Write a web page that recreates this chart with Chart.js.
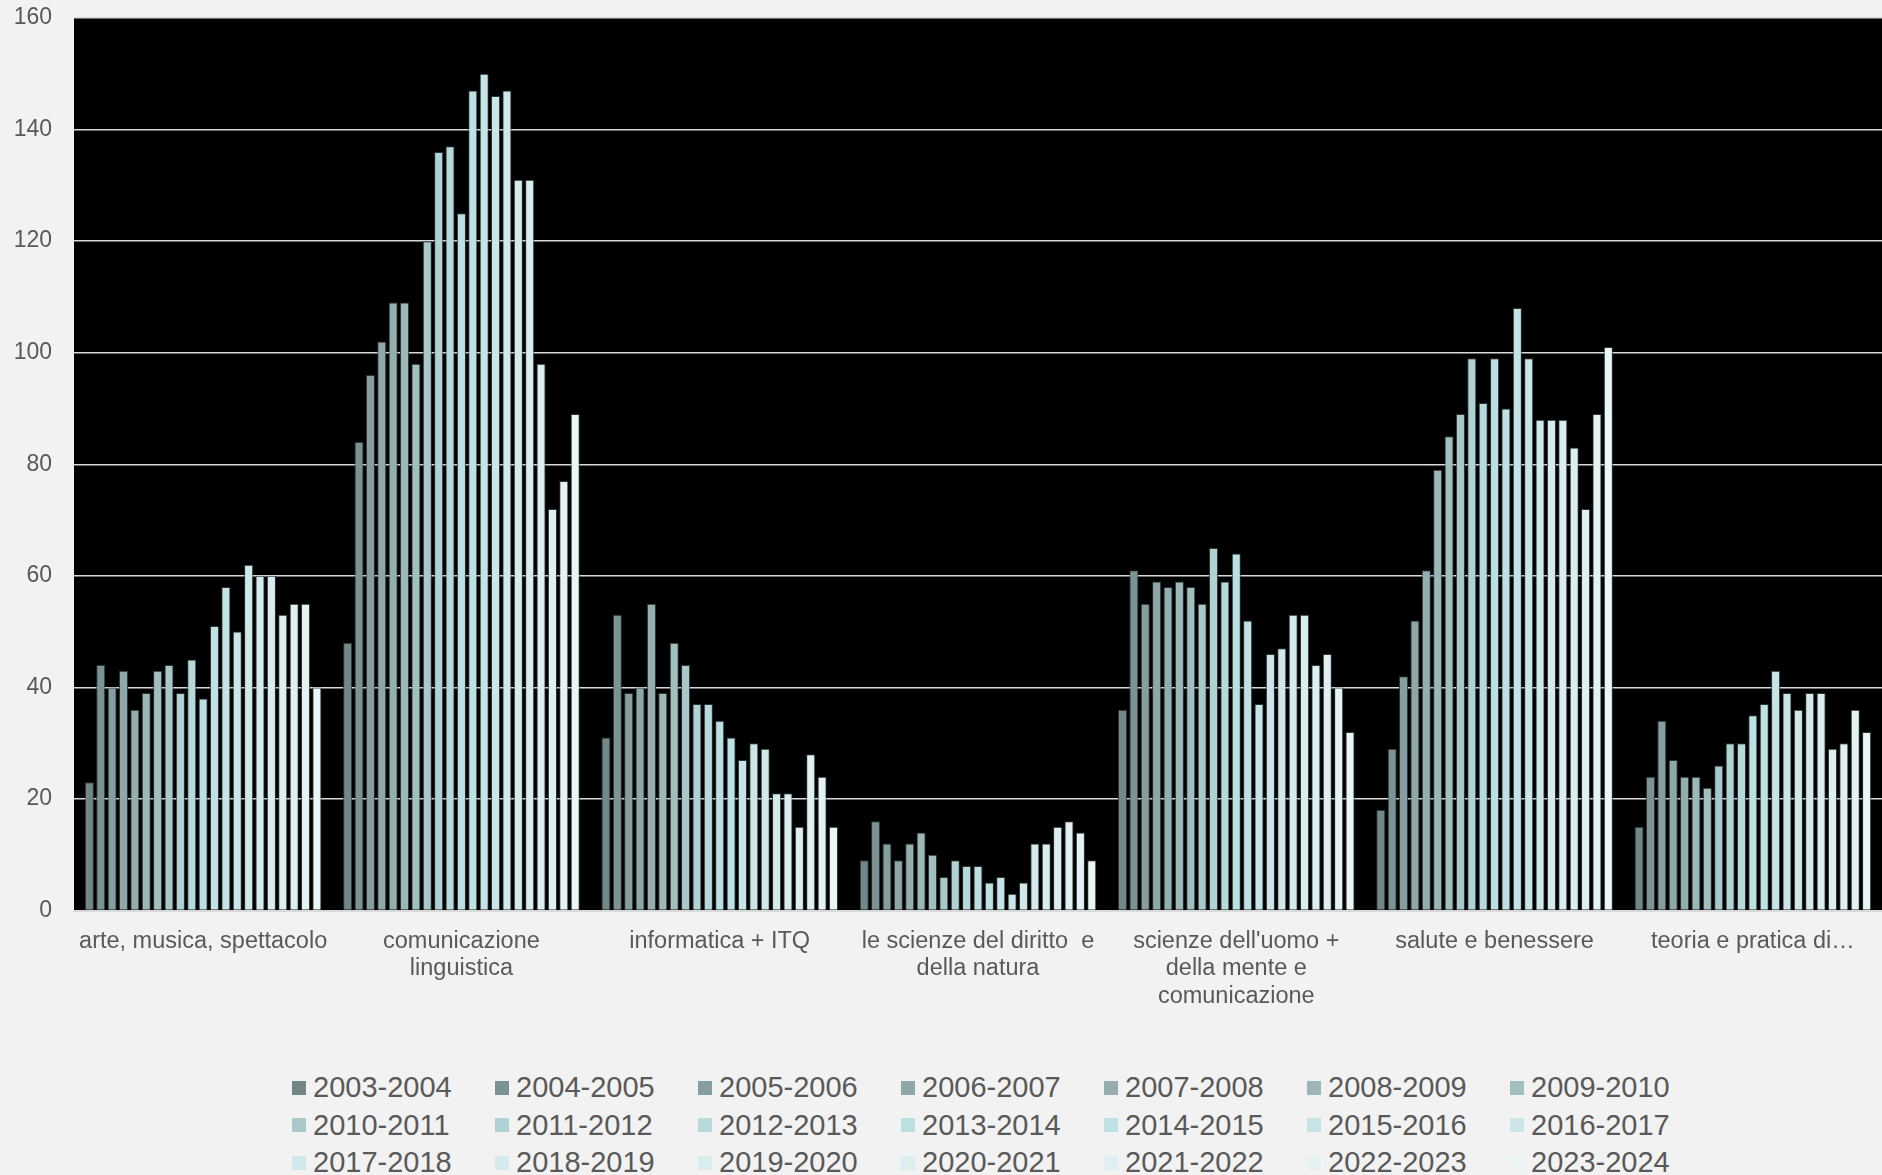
<!DOCTYPE html>
<html>
<head>
<meta charset="utf-8">
<script src="https://cdn.jsdelivr.net/npm/chart.js@4.4.1/dist/chart.umd.min.js"></script>
<style>
  html, body { margin: 0; padding: 0; background: #f2f2f2; overflow: hidden; }
  body { width: 1882px; height: 1175px; position: relative; font-family: "Liberation Sans", Arial, sans-serif; }
  .wrap { position: absolute; left: 0; top: 0; width: 1882px; height: 1031px; }
  .legend { position: absolute; left: 292px; top: 1069px; display: grid; grid-template-columns: repeat(7, 203px); grid-auto-rows: 37.5px; }
  .legend div { display: flex; align-items: center; font-size: 29px; color: #595959; white-space: nowrap; }
  .legend span { display: inline-block; width: 14px; height: 14px; margin-right: 7px; }
</style>
</head>
<body>
<div class="wrap"><canvas id="myChart"></canvas></div>
<div class="legend" id="legend"></div>
<script>
const categories = [
  ["arte, musica, spettacolo"],
  ["comunicazione", "linguistica"],
  ["informatica + ITQ"],
  ["le scienze del diritto  e", "della natura"],
  ["scienze dell'uomo +", "della mente e", "comunicazione"],
  ["salute e benessere"],
  ["teoria e pratica di…"],
];

const years = [
  "2003-2004", "2004-2005", "2005-2006", "2006-2007", "2007-2008", "2008-2009", "2009-2010",
  "2010-2011", "2011-2012", "2012-2013", "2013-2014", "2014-2015", "2015-2016", "2016-2017",
  "2017-2018", "2018-2019", "2019-2020", "2020-2021", "2021-2022", "2022-2023", "2023-2024",
];

// one row per category, one value per school year
const arteMusica = [23, 44, 40, 43, 36, 39, 43, 44, 39, 45, 38, 51, 58, 50, 62, 60, 60, 53, 55, 55, 40];
const comunicazione = [48, 84, 96, 102, 109, 109, 98, 120, 136, 137, 125, 147, 150, 146, 147, 131, 131, 98, 72, 77, 89];
const informatica = [31, 53, 39, 40, 55, 39, 48, 44, 37, 37, 34, 31, 27, 30, 29, 21, 21, 15, 28, 24, 15];
const scienzeDiritto = [9, 16, 12, 9, 12, 14, 10, 6, 9, 8, 8, 5, 6, 3, 5, 12, 12, 15, 16, 14, 9];
const scienzeUomo = [36, 61, 55, 59, 58, 59, 58, 55, 65, 59, 64, 52, 37, 46, 47, 53, 53, 44, 46, 40, 32];
const salute = [18, 29, 42, 52, 61, 79, 85, 89, 99, 91, 99, 90, 108, 99, 88, 88, 88, 83, 72, 89, 101];
const teoria = [15, 24, 34, 27, 24, 24, 22, 26, 30, 30, 35, 37, 43, 39, 36, 39, 39, 29, 30, 36, 32];

const rows = [arteMusica, comunicazione, informatica, scienzeDiritto, scienzeUomo, salute, teoria];

const colors = [
  "#718788", "#7b9394", "#869ea0", "#8ea7a8", "#94aeaf", "#9cb7b8", "#a2bfc0",
  "#a9c8ca", "#b1d2d4", "#b7d9db", "#bcdfe2", "#c0e1e4", "#c6e4e7", "#cbe5e8",
  "#d1e8ea", "#d5eaec", "#d9ecee", "#dceef0", "#e0f0f2", "#e4f2f3", "#eaf5f5",
];

const datasets = years.map((year, i) => ({
  label: year,
  data: rows.map((row) => row[i]),
  backgroundColor: colors[i],
  borderColor: "rgba(45,58,59,0.9)",
  borderWidth: 1,
  categoryPercentage: 0.925,
  barPercentage: 0.8,
}));

const plotBackground = {
  id: "plotBackground",
  beforeDraw(chart) {
    const { ctx, chartArea } = chart;
    ctx.save();
    ctx.fillStyle = "#000000";
    ctx.fillRect(chartArea.left, chartArea.top, chartArea.right - chartArea.left, chartArea.bottom - chartArea.top);
    ctx.restore();
  },
};

Chart.defaults.font.family = "'Liberation Sans', Arial, sans-serif";
Chart.defaults.color = "#595959";

new Chart(document.getElementById("myChart"), {
  type: "bar",
  data: { labels: categories, datasets: datasets },
  options: {
    responsive: true,
    maintainAspectRatio: false,
    animation: false,
    layout: { padding: { top: 18, left: 15, right: 0, bottom: 4 } },
    plugins: {
      legend: { display: false },
      tooltip: { enabled: false },
    },
    scales: {
      x: {
        grid: { display: false, drawTicks: false },
        border: { display: true, color: "#d9d9d9", width: 2 },
        ticks: { font: { size: 23.5, lineHeight: 1.17 }, padding: 17, maxRotation: 0, autoSkip: false },
      },
      y: {
        min: 0,
        max: 160,
        ticks: { stepSize: 20, font: { size: 23 }, padding: 22 },
        grid: { color: "#d9d9d9", lineWidth: 1.5, drawTicks: false },
        border: { display: false },
        afterFit(scale) {
          // keep the axis as narrow as the reference
          scale.width = 59;
          scale.paddingTop = 0;
          scale.paddingBottom = 0;
        },
      },
    },
  },
  plugins: [plotBackground],
});

const legend = document.getElementById("legend");
years.forEach((year, i) => {
  const item = document.createElement("div");
  item.innerHTML = `<span style="background:${colors[i]}"></span>${year}`;
  legend.appendChild(item);
});
</script>
</body>
</html>
